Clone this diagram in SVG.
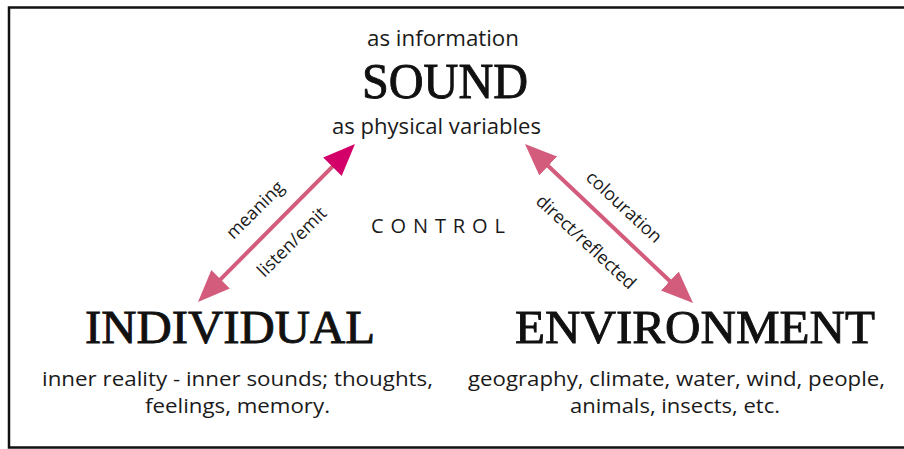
<svg xmlns="http://www.w3.org/2000/svg" width="904" height="449" viewBox="0 0 904 449">
<defs>
<style>
.sans{font-family:"Open Sans","Noto Sans",sans-serif;fill:#1a1a1a}
.cap{font-family:"Liberation Serif","Times New Roman",serif;font-weight:normal;fill:#111;stroke:#111;stroke-width:0.9}
.lbl{font-family:"Open Sans","Noto Sans",sans-serif;font-size:18px;fill:#1a1a1a;text-anchor:middle}
.sub{font-size:20px}
.conn{stroke:#d35c7d;stroke-width:4;fill:none}
</style>
<marker id="headPink" markerUnits="userSpaceOnUse" viewBox="0 0 32 26" refX="12" refY="13" markerWidth="32" markerHeight="26" orient="auto-start-reverse">
<path d="M0,0 L32,13 L0,26 z" fill="#d35c7d"/>
</marker>
<marker id="headMagenta" markerUnits="userSpaceOnUse" viewBox="0 0 32 26" refX="12" refY="13" markerWidth="32" markerHeight="26" orient="auto">
<path d="M0,0 L32,13 L0,26 z" fill="#d4006a"/>
</marker>
</defs>
<rect x="9" y="7.5" width="910" height="440" fill="#fff" stroke="#111" stroke-width="2.5"/>

<g id="connectors">
<line class="conn" x1="212.1" y1="287.8" x2="340.9" y2="158.2" marker-start="url(#headPink)" marker-end="url(#headMagenta)"/>
<line class="conn" x1="539.5" y1="157.7" x2="678.5" y2="289.3" marker-start="url(#headPink)" marker-end="url(#headPink)"/>
<text class="lbl" transform="translate(255,210) rotate(-45)" y="6">meaning</text>
<text class="lbl" transform="translate(292,242) rotate(-45)" y="6">listen/emit</text>
<text class="lbl" transform="translate(624,207) rotate(43)" y="6">colouration</text>
<text class="lbl" transform="translate(586,242) rotate(43)" y="6">direct/reflected</text>
</g>

<g id="sound">
<text class="sans" x="367" y="46" font-size="21" textLength="152" lengthAdjust="spacingAndGlyphs">as information</text>
<text class="cap" x="362" y="98" font-size="50" textLength="166" lengthAdjust="spacingAndGlyphs">SOUND</text>
<text class="sans" x="332" y="134" font-size="21" textLength="209" lengthAdjust="spacingAndGlyphs">as physical variables</text>
</g>

<g id="control">
<text class="sans" x="371" y="233" font-size="20" textLength="134" lengthAdjust="spacing">CONTROL</text>
</g>

<g id="individual">
<text class="cap" x="85" y="343" font-size="47" textLength="290" lengthAdjust="spacingAndGlyphs">INDIVIDUAL</text>
<text class="sans sub" x="42" y="386" textLength="391" lengthAdjust="spacingAndGlyphs">inner reality - inner sounds; thoughts,</text>
<text class="sans sub" x="145" y="413" textLength="185" lengthAdjust="spacingAndGlyphs">feelings, memory.</text>
</g>

<g id="environment">
<text class="cap" x="515" y="343" font-size="47" textLength="360" lengthAdjust="spacingAndGlyphs">ENVIRONMENT</text>
<text class="sans sub" x="468" y="386" textLength="417" lengthAdjust="spacingAndGlyphs">geography, climate, water, wind, people,</text>
<text class="sans sub" x="570" y="413" textLength="210" lengthAdjust="spacingAndGlyphs">animals, insects, etc.</text>
</g>
</svg>
